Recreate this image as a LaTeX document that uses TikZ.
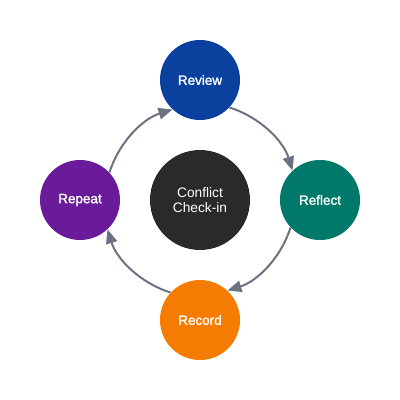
\documentclass[tikz,border=0pt]{standalone}
\usepackage{fontspec}
\setmainfont{Liberation Sans}
\newfontfamily\stagefont[FakeBold=1.5]{Liberation Sans}
\usepackage{tikz}
\usetikzlibrary{arrows.meta}
\definecolor{reviewblue}{HTML}{0A409E}
\definecolor{reflectteal}{HTML}{00796B}
\definecolor{recordorange}{HTML}{F57C00}
\definecolor{repeatpurple}{HTML}{6A1B9A}
\definecolor{hubgray}{HTML}{2A2A2A}
\definecolor{flowgray}{HTML}{6B7280}
\tikzstyle{stage}=[circle, minimum size=60pt, inner sep=0pt, text=white, font=\stagefont\fontsize{10.1}{12}\selectfont]
\tikzstyle{hub}=[circle, minimum size=75pt, inner sep=0pt, fill=hubgray, text=white, align=center, font=\fontsize{10.3}{11.5}\selectfont]
\tikzstyle{flow}=[draw=flowgray, line width=1.5pt, -{Triangle[length=10.5pt,width=8.5pt,fill=flowgray]}, looseness=0.9]

\begin{document}
\begin{tikzpicture}
\useasboundingbox (-150pt,-150pt) rectangle (150pt,150pt);
\node[hub] (hub) at (0,0) {Conflict\\Check-in};
\node[stage, fill=reviewblue] (review) at (90:90pt) {Review};
\node[stage, fill=reflectteal] (reflect) at (0:90pt) {Reflect};
\node[stage, fill=recordorange] (record) at (-90:90pt) {Record};
\node[stage, fill=repeatpurple] (repeat) at (180:90pt) {Repeat};
\draw[flow] (review.-43) to[out=-17.4, in=107.4] (reflect.133);
\draw[flow] (reflect.-137) to[out=-107.4, in=17.4] (record.47);
\draw[flow] (record.137) to[out=162.6, in=-72.6] (repeat.-47);
\draw[flow] (repeat.43) to[out=72.6, in=-162.6] (review.-133);
\end{tikzpicture}
\end{document}
